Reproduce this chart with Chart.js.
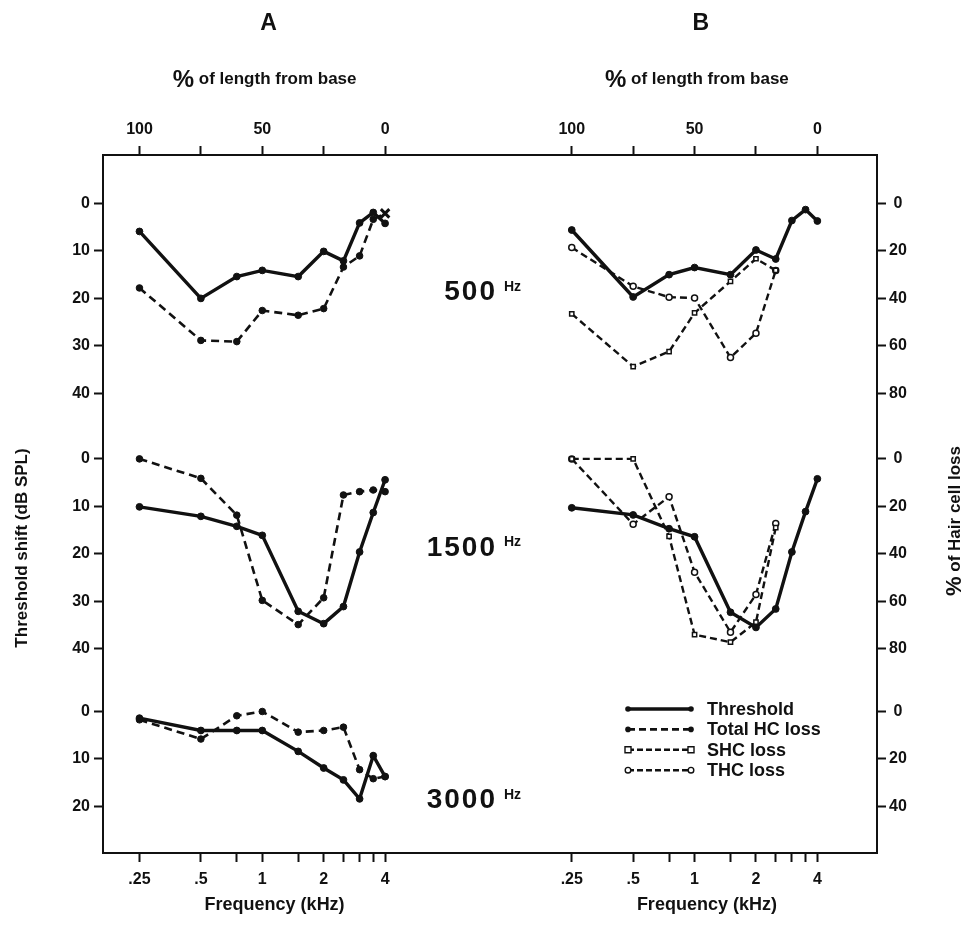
<!DOCTYPE html>
<html><head><meta charset="utf-8">
<script src="https://cdn.jsdelivr.net/npm/chart.js@4.4.1/dist/chart.umd.min.js"></script>
<style>html,body{margin:0;padding:0;background:#fff}canvas{display:block}</style>
</head><body>
<canvas id="c" width="965" height="932"></canvas>
<script>
// ---------- data ----------
const freqs = [0.25, 0.5, 0.75, 1, 1.5, 2, 2.5, 3, 3.5, 4];          // kHz
const lossFreqsB = [0.25, 0.5, 0.75, 1, 1.5, 2, 2.5];               // kHz

// Panel A (threshold in dB, total hair-cell loss in %)
const thrA500  = [5.9, 20.0, 15.4, 14.1, 15.4, 10.1, 12.1, 4.1, 1.9, 4.2];
const totA500  = [35.6, 57.7, 58.2, 45.1, 47.1, 44.3, 26.8, 22.1, 6.7, 4.2];
const thrA1500 = [10.1, 12.1, 14.2, 16.1, 32.1, 34.7, 31.1, 19.6, 11.3, 4.4];
const totA1500 = [0, 8.2, 23.7, 59.6, 69.8, 58.5, 15.2, 13.8, 13.1, 13.8];
const thrA3000 = [1.4, 4.0, 4.0, 4.0, 8.4, 11.9, 14.4, 18.4, 9.3, 13.7];
const totA3000 = [3.5, 11.6, 1.8, 0, 8.7, 8.0, 6.6, 24.5, 28.3, 27.4];

// Panel B (threshold in dB, SHC / THC loss in %)
const thrB500  = [5.6, 19.7, 15.0, 13.5, 15.0, 9.8, 11.7, 3.6, 1.3, 3.7];
const shcB500  = [46.5, 68.7, 62.4, 46.1, 32.8, 23.3, 28.2];
const thcB500  = [18.6, 34.9, 39.5, 39.8, 64.9, 54.7, 28.2];
const thrB1500 = [10.3, 11.8, 14.7, 16.4, 32.3, 35.5, 31.6, 19.6, 11.1, 4.2];
const shcB1500 = [0, 0, 32.6, 74.0, 77.2, 68.8, 28.9];
const thcB1500 = [0, 27.5, 15.9, 47.7, 73.0, 57.1, 27.2];

// ticks / labels
const freqTicks = [0.25, 0.5, 0.75, 1, 1.5, 2, 2.5, 3, 3.5, 4];
const freqTickLabels = ['.25', '.5', '', '1', '', '2', '', '', '', '4'];
const lengthTicks = [0.25, 0.5, 1, 2, 4];
const lengthTickLabels = ['100', '', '50', '', '0'];
const dbTicks500 = [0, 10, 20, 30, 40];
const dbTicks1500 = [0, 10, 20, 30, 40];
const dbTicks3000 = [0, 10, 20];
const pctTicks500 = [0, 20, 40, 60, 80];
const pctTicks1500 = [0, 20, 40, 60, 80];
const pctTicks3000 = [0, 20, 40];
const stimulusLabels = ['500', '1500', '3000'];

// ---------- layout of the combined frame (library units) ----------
const PANEL_B_SHIFT = 7.04;          // octaves between panel A and B origins
const ROW_OFFSET = [0, 53.8, 107];   // dB offset of each stimulus row
const PCT_TO_DB = 0.5;               // 20 % on right axis == 10 dB on left
const XMIN = -0.594, XMAX = 12.011;
const YMIN = -10.2, YMAX = 136.8;

const oct = f => Math.log2(f / 0.25);
const dbPts = (fr, vals, shift, row) => vals.map((v, i) => ({x: oct(fr[i]) + shift, y: v + ROW_OFFSET[row]}));
const pctPts = (fr, vals, shift, row) => vals.map((v, i) => ({x: oct(fr[i]) + shift, y: v * PCT_TO_DB + ROW_OFFSET[row]}));

const INK = '#111';
const solid = (data) => ({data, borderColor: INK, backgroundColor: INK, borderWidth: 3.4, pointRadius: 3.4,
  pointBorderWidth: 1, pointBackgroundColor: INK, pointBorderColor: INK, showLine: true, tension: 0});
const dashedFilled = (data, styles) => ({data, borderColor: INK, backgroundColor: INK, borderWidth: 2.6, borderDash: [8, 5],
  pointRadius: styles ? styles.map(s => s === 'crossRot' ? 6 : 3.3) : 3.3, pointStyle: styles || 'circle',
  pointBorderWidth: styles ? styles.map(s => s === 'crossRot' ? 3 : 1) : 1,
  pointBackgroundColor: INK, pointBorderColor: INK, showLine: true, tension: 0});
const dashedOpen = (data, style) => ({data, borderColor: INK, backgroundColor: '#fff', borderWidth: 2.4, borderDash: [7, 4],
  pointRadius: 3, pointStyle: style, pointBorderWidth: 1.5,
  pointBackgroundColor: '#fff', pointBorderColor: INK, showLine: true, tension: 0});

const a500Styles = freqs.map((f, i) => i === freqs.length - 1 ? 'crossRot' : 'circle');

const datasets = [
  solid(dbPts(freqs, thrA500, 0, 0)),
  dashedFilled(pctPts(freqs, totA500, 0, 0), a500Styles),
  solid(dbPts(freqs, thrA1500, 0, 1)),
  dashedFilled(pctPts(freqs, totA1500, 0, 1)),
  solid(dbPts(freqs, thrA3000, 0, 2)),
  dashedFilled(pctPts(freqs, totA3000, 0, 2)),
  dashedOpen(pctPts(lossFreqsB, shcB500, PANEL_B_SHIFT, 0), 'rect'),
  dashedOpen(pctPts(lossFreqsB, thcB500, PANEL_B_SHIFT, 0), 'circle'),
  solid(dbPts(freqs, thrB500, PANEL_B_SHIFT, 0)),
  dashedOpen(pctPts(lossFreqsB, shcB1500, PANEL_B_SHIFT, 1), 'rect'),
  dashedOpen(pctPts(lossFreqsB, thcB1500, PANEL_B_SHIFT, 1), 'circle'),
  solid(dbPts(freqs, thrB1500, PANEL_B_SHIFT, 1)),
];

// tick positions
const xTickVals = [...freqTicks.map(oct), ...freqTicks.map(f => oct(f) + PANEL_B_SHIFT)];
const xTickLbls = [...freqTickLabels, ...freqTickLabels];
const topTickVals = [...lengthTicks.map(oct), ...lengthTicks.map(f => oct(f) + PANEL_B_SHIFT)];
const topTickLbls = [...lengthTickLabels, ...lengthTickLabels];
const yTickVals = [...dbTicks500.map(v => v + ROW_OFFSET[0]), ...dbTicks1500.map(v => v + ROW_OFFSET[1]), ...dbTicks3000.map(v => v + ROW_OFFSET[2])];
const yTickLbls = [...dbTicks500, ...dbTicks1500, ...dbTicks3000].map(String);
const yRTickVals = [...pctTicks500.map(v => v * PCT_TO_DB + ROW_OFFSET[0]), ...pctTicks1500.map(v => v * PCT_TO_DB + ROW_OFFSET[1]), ...pctTicks3000.map(v => v * PCT_TO_DB + ROW_OFFSET[2])];
const yRTickLbls = [...pctTicks500, ...pctTicks1500, ...pctTicks3000].map(String);

const FONT = '"Liberation Sans", Arial, sans-serif';
const tickFont = {family: FONT, size: 16, weight: 'bold'};
const axisCommon = (vals, lbls, pad) => ({
  type: 'linear',
  afterBuildTicks: s => { s.ticks = vals.map(v => ({value: v})); },
  grid: {drawOnChartArea: false, drawTicks: true, tickLength: 9, tickWidth: 2, tickColor: INK},
  border: {display: true, width: 2, color: INK},
  ticks: {autoSkip: false, maxRotation: 0, minRotation: 0, color: INK, font: tickFont, padding: pad,
    callback: (v, i) => lbls[i]}
});

const textPlugin = {
  id: 'texts',
  afterDraw(chart) {
    const ctx = chart.ctx;
    const xs = chart.scales.x, ys = chart.scales.y;
    ctx.save();
    ctx.fillStyle = INK;
    ctx.textBaseline = 'middle';
    const panelCenters = [xs.getPixelForValue(oct(1.05)), xs.getPixelForValue(oct(1.05) + PANEL_B_SHIFT)];
    ['A', 'B'].forEach((t, i) => {
      ctx.font = 'bold 23px ' + FONT; ctx.textAlign = 'center';
      ctx.fillText(t, panelCenters[i] + 2, 24);
      ctx.font = 'bold 24px ' + FONT;
      const pw = ctx.measureText('%').width;
      ctx.font = 'bold 17px ' + FONT;
      const rest = ' of length from base';
      const rw = ctx.measureText(rest).width;
      const x0 = panelCenters[i] - 2 - (pw + rw) / 2;
      ctx.textAlign = 'left';
      ctx.font = 'bold 24px ' + FONT; ctx.fillText('%', x0, 80);
      ctx.font = 'bold 17px ' + FONT; ctx.fillText(rest, x0 + pw, 79);
      ctx.textAlign = 'center';
      ctx.font = 'bold 18px ' + FONT;
      ctx.fillText('Frequency (kHz)', panelCenters[i] + 8, 905);
    });
    stimulusLabels.forEach((s, r) => {
      const y = ys.getPixelForValue(ROW_OFFSET[r] + 18.8);
      ctx.font = 'bold 28px ' + FONT; ctx.textAlign = 'right';
      ctx.letterSpacing = '2px';
      ctx.fillText(s, 497, y);
      ctx.letterSpacing = '0px';
      ctx.font = 'bold 14px ' + FONT; ctx.textAlign = 'left';
      ctx.fillText('Hz', 504, y - 6);
    });
    ctx.save();
    ctx.translate(22, 548); ctx.rotate(-Math.PI / 2);
    ctx.font = 'bold 17px ' + FONT; ctx.textAlign = 'center';
    ctx.fillText('Threshold shift (dB SPL)', 0, 0);
    ctx.restore();
    ctx.save();
    ctx.translate(955, 521); ctx.rotate(-Math.PI / 2);
    ctx.font = 'bold 22px ' + FONT;
    const pw2 = ctx.measureText('%').width;
    ctx.font = 'bold 17px ' + FONT;
    const r2 = ' of Hair cell loss';
    const rw2 = ctx.measureText(r2).width;
    ctx.textAlign = 'left';
    const s0 = -(pw2 + rw2) / 2;
    ctx.font = 'bold 22px ' + FONT; ctx.fillText('%', s0, 0);
    ctx.font = 'bold 17px ' + FONT; ctx.fillText(r2, s0 + pw2, 0);
    ctx.restore();
    const items = [
      {t: 'Threshold', dash: [], w: 3.4, pt: 'dot'},
      {t: 'Total HC loss', dash: [7, 4], w: 2.6, pt: 'dot'},
      {t: 'SHC loss', dash: [6, 3], w: 2.4, pt: 'square'},
      {t: 'THC loss', dash: [6, 3], w: 2.4, pt: 'circle'}
    ];
    const lx0 = 628, lx1 = 691, ly0 = 709, ldy = 20.4;
    items.forEach((it, k) => {
      const y = ly0 + k * ldy;
      ctx.strokeStyle = INK; ctx.lineWidth = it.w; ctx.setLineDash(it.dash);
      ctx.beginPath(); ctx.moveTo(lx0, y); ctx.lineTo(lx1, y); ctx.stroke();
      ctx.setLineDash([]);
      [lx0, lx1].forEach(px => {
        ctx.beginPath();
        if (it.pt === 'dot') { ctx.arc(px, y, 2.8, 0, Math.PI * 2); ctx.fillStyle = INK; ctx.fill(); }
        else if (it.pt === 'square') { ctx.fillStyle = '#fff'; ctx.lineWidth = 1.4; ctx.rect(px - 3, y - 3, 6, 6); ctx.fill(); ctx.stroke(); }
        else { ctx.fillStyle = '#fff'; ctx.lineWidth = 1.4; ctx.arc(px, y, 2.8, 0, Math.PI * 2); ctx.fill(); ctx.stroke(); }
      });
      ctx.fillStyle = INK;
      ctx.font = 'bold 18px ' + FONT; ctx.textAlign = 'left';
      ctx.fillText(it.t, 707, y + 1);
    });
    ctx.restore();
  }
};

const xAxis = axisCommon(xTickVals, xTickLbls, 8);
const xTopAxis = axisCommon(topTickVals, topTickLbls, 7);
const yAxis = axisCommon(yTickVals, yTickLbls, 4);
const yRAxis = axisCommon(yRTickVals, yRTickLbls, 3);
yRAxis.ticks.crossAlign = 'center';

new Chart(document.getElementById('c'), {
  type: 'scatter',
  data: {datasets},
  options: {
    responsive: false, animation: false, devicePixelRatio: 1,
    layout: {padding: 0},
    plugins: {legend: {display: false}, tooltip: {enabled: false}},
    scales: {
      x: Object.assign(xAxis, {position: 'bottom', min: XMIN, max: XMAX, afterFit: s => { s.height = 79; }}),
      xTop: Object.assign(xTopAxis, {position: 'top', min: XMIN, max: XMAX, afterFit: s => { s.height = 155; }}),
      y: Object.assign(yAxis, {position: 'left', reverse: true, min: YMIN, max: YMAX, afterFit: s => { s.width = 103; }}),
      yR: Object.assign(yRAxis, {position: 'right', reverse: true, min: YMIN, max: YMAX, afterFit: s => { s.width = 88; }})
    }
  },
  plugins: [textPlugin]
});
</script>
</body></html>
